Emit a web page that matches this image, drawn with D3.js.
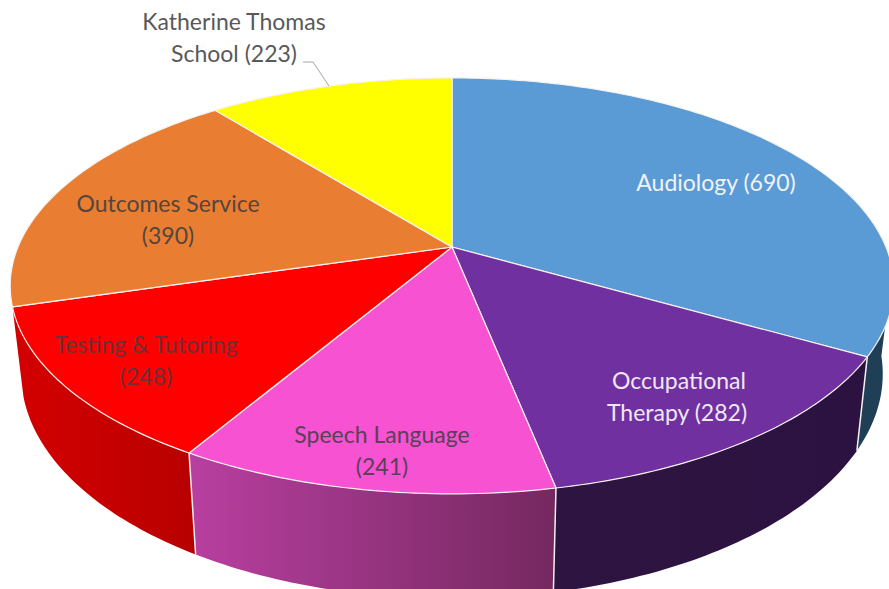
<!DOCTYPE html>
<html>
<head>
<meta charset="utf-8">
<script src="https://cdn.jsdelivr.net/npm/d3@7"></script>
<style>
  html, body { margin: 0; padding: 0; background: #fff; overflow: hidden; }
  svg { display: block; }
  text { font-family: Lato, "Open Sans", sans-serif; font-size: 23px; text-anchor: middle; }
</style>
</head>
<body>
<div id="chart"></div>
<script>
const categories = ['Audiology', 'Occupational Therapy', 'Speech Language', 'Testing & Tutoring', 'Outcomes Service', 'Katherine Thomas School'];
const counts = [690, 282, 241, 248, 390, 223];
const topColors = ['#5b9bd5', '#7030a0', '#f652d2', '#ff0000', '#e97d32', '#ffff00'];
const sideFrom = ['#1f3f57', '#2e1440', '#b83fa0', '#d40000', null, null];
const sideTo = ['#1f3f57', '#2c1240', '#752860', '#b80000', null, null];

const width = 889, height = 589;
const cx = 452, cy = 247;

// perspective of the tilted disc
const radiusX = 434, radiusY = 200.7, tilt = 0.187;

function project(a) {
    const u = Math.sin(a), v = Math.cos(a), w = 1 + tilt * v;
    return [cx + radiusX * u / w, cy - radiusY * v / w];
}

// bottom rim is the top rim pushed down and narrowed a little
function lower(p) {
    return [cx + 0.975 * (p[0] - cx), p[1] + 85 + 0.08 * (p[1] - cy)];
}

function arcPoints(a0, a1) {
    const n = Math.max(2, Math.ceil((a1 - a0) * 60));
    return d3.range(n + 1).map(i => project(a0 + (a1 - a0) * i / n));
}

const pie = d3.pie().sort(null).startAngle(0).endAngle(2 * Math.PI);
const slices = pie(counts);
const line = d3.line();

const svg = d3.create('svg')
    .attr('width', width)
    .attr('height', height)
    .attr('viewBox', [0, 0, width, height]);

const defs = svg.append('defs');

// only the front slices show a side wall, Audiology just past the right edge
const sideStart = [1.68, 0, 0, 0, 0, 0];

const sides = slices.map((d, i) => {
    if (!sideFrom[i]) return null;
    const top = arcPoints(Math.max(d.startAngle, sideStart[i]), d.endAngle);
    return { i, poly: top.concat(top.map(lower).reverse()) };
}).filter(d => d);

sides.forEach(s => {
    const xs = s.poly.map(p => p[0]);
    const grad = defs.append('linearGradient')
        .attr('id', 'side' + s.i)
        .attr('gradientUnits', 'userSpaceOnUse')
        .attr('x1', d3.min(xs))
        .attr('x2', d3.max(xs))
        .attr('y1', 0)
        .attr('y2', 0);
    grad.append('stop').attr('offset', 0).attr('stop-color', sideFrom[s.i]);
    grad.append('stop').attr('offset', 1).attr('stop-color', sideTo[s.i]);
});

svg.append('g')
    .selectAll('path')
    .data(sides)
    .join('path')
    .attr('d', s => line(s.poly) + 'Z')
    .attr('fill', s => `url(#side${s.i})`);

// white seams between the wall pieces
svg.append('g')
    .selectAll('path')
    .data(slices.slice(0, 3))
    .join('path')
    .attr('d', d => {
        const p = project(d.endAngle);
        return line([p, lower(p)]);
    })
    .attr('stroke', '#f4f0f4')
    .attr('stroke-width', 1.5)
    .attr('fill', 'none');

svg.append('g')
    .selectAll('path')
    .data(slices)
    .join('path')
    .attr('d', d => line([[cx, cy]].concat(arcPoints(d.startAngle, d.endAngle))) + 'Z')
    .attr('fill', (d, i) => topColors[i])
    .attr('stroke', '#f6f2f0')
    .attr('stroke-width', 1.2)
    .attr('stroke-linejoin', 'round');

// leader line of the outside label
const leaderEnd = project(slices[5].startAngle + 0.5 * (slices[5].endAngle - slices[5].startAngle));
svg.append('path')
    .attr('d', line([[303, 62], [313, 62], [329, leaderEnd[1]]]))
    .attr('fill', 'none')
    .attr('stroke', '#a6a6a6')
    .attr('stroke-width', 1);

const labelLines = [
    ['Audiology (690)'],
    ['Occupational', 'Therapy (282)'],
    ['Speech Language', '(241)'],
    ['Testing & Tutoring', '(248)'],
    ['Outcomes Service', '(390)'],
    ['Katherine Thomas', 'School (223)']
];
const labelColors = ['#f2f2f2', '#efe8f4', '#5a4058', '#6e3036', '#55463c', '#595959'];
const labelAnchors = [[716, 191], [679, 389], [382, 443], [146, 353], [168, 212], [234, 30]];

labelLines.forEach((rows, i) => {
    rows.forEach((row, j) => {
        svg.append('text')
            .attr('x', labelAnchors[i][0] - (i === 1 && j === 1 ? 2 : 0))
            .attr('y', labelAnchors[i][1] + j * 32)
            .attr('fill', labelColors[i])
            .text(row);
    });
});

document.getElementById('chart').appendChild(svg.node());
</script>
</body>
</html>
